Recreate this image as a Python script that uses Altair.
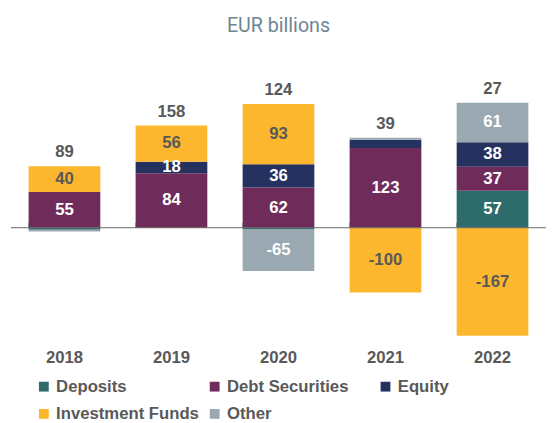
import altair as alt
import pandas as pd

years = ['2018', '2019', '2020', '2021', '2022']
categories = ['Deposits', 'Debt Securities', 'Equity', 'Investment Funds', 'Other']
deposits = [-3, 0, -2, 0, 57]
debt_securities = [55, 84, 62, 123, 37]
equity = [0, 18, 36, 13, 38]
investment_funds = [40, 56, 93, -100, -167]
other = [-3, 0, -65, 3, 61]
totals = [89, 158, 124, 39, 27]
colors = ['#2E6B6B', '#6F2C5B', '#25325F', '#FDB72F', '#9AA9B1']

series = {
    'Deposits': deposits,
    'Debt Securities': debt_securities,
    'Equity': equity,
    'Investment Funds': investment_funds,
    'Other': other,
}
rows = []
for ci, cat in enumerate(categories):
    for yi, yr in enumerate(years):
        rows.append({'year': yr, 'category': cat, 'value': series[cat][yi], 'order': ci})
df = pd.DataFrame(rows)
tot_df = pd.DataFrame({'year': years, 'total': totals})

W, H = 545, 277
yscale = alt.Scale(domain=[-170, 250], nice=False, zero=False)
FONT = 'Liberation Sans'
GREY = '#595959'
FS = 17

xaxis = alt.Axis(title=None, labelAngle=0, domain=False, ticks=False, labelPadding=12,
                 labelFont=FONT, labelFontWeight='bold', labelFontSize=FS, labelColor=GREY)
xscale = alt.Scale(paddingInner=0.33, paddingOuter=0.165)

def xenc(**kw):
    return alt.X('year:N', sort=years, scale=xscale, axis=xaxis, **kw)

base = (alt.Chart(df)
        .transform_filter('datum.value != 0')
        .transform_stack(stack='value', groupby=['year'], as_=['v0', 'v1'],
                         sort=[alt.SortField('order', order='ascending')])
        .transform_calculate(mid='(datum.v0 + datum.v1) / 2', label="'' + datum.value"))

bars = base.mark_bar().encode(
    x=xenc(),
    y=alt.Y('v0:Q', scale=yscale, axis=None),
    y2='v1:Q',
    color=alt.Color('category:N', sort=categories,
                    scale=alt.Scale(domain=categories, range=colors),
                    legend=alt.Legend(title=None, orient='none', legendX=25, legendY=318,
                                      direction='horizontal', columns=3, gridAlign='all',
                                      columnPadding=7, rowPadding=10, symbolType='square',
                                      symbolSize=100, symbolStrokeWidth=0, labelFont=FONT,
                                      labelFontWeight='bold', labelFontSize=FS,
                                      labelColor=GREY, labelOffset=4)),
)

seg_text = base.transform_filter('abs(datum.value) >= 15').mark_text(
    font=FONT, fontWeight='bold', fontSize=FS, baseline='middle').encode(
    x=xenc(),
    y=alt.Y('mid:Q', scale=yscale, axis=None),
    text='label:N',
    color=alt.condition("datum.category == 'Investment Funds'", alt.value(GREY), alt.value('white')),
)

zero = alt.Chart(pd.DataFrame({'z': [0]})).mark_rule(color='#666666', strokeWidth=1).encode(
    y=alt.Y('z:Q', scale=yscale, axis=None))

ticks = alt.Chart(tot_df).mark_tick(orient='vertical', size=5, thickness=1, color='#666666',
                                    yOffset=-2.5).encode(
    x=xenc(bandPosition=0),
    y=alt.Y(datum=0, scale=yscale, axis=None))

total_text = (alt.Chart(df)
              .transform_filter('datum.value > 0')
              .transform_aggregate(top='sum(value)', groupby=['year'])
              .transform_lookup(lookup='year', from_=alt.LookupData(tot_df, 'year', ['total']))
              .mark_text(font=FONT, fontWeight='bold', fontSize=FS, baseline='bottom',
                         dy=-5, color=GREY)
              .encode(x=xenc(), y=alt.Y('top:Q', scale=yscale, axis=None), text='total:Q'))

chart = alt.layer(bars, seg_text, zero, ticks, total_text).properties(
    width=W, height=H,
    title=alt.TitleParams('EUR billions', font='Roboto', fontSize=20, fontWeight='normal',
                          color='#6E8593', anchor='middle', offset=30),
    padding={'left': 2, 'right': 0, 'top': 5, 'bottom': 5},
).configure_view(stroke=None)

chart.save('out.html', embed_options={'renderer': 'svg', 'actions': False})
